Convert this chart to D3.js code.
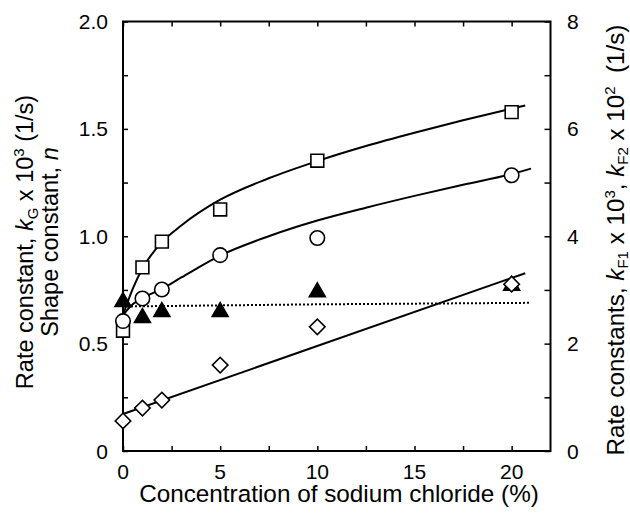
<!DOCTYPE html>
<html><head><meta charset="utf-8">
<script src="https://cdn.jsdelivr.net/npm/d3@7"></script>
<style>
body{margin:0;background:#fff;}
text{font-family:"Liberation Sans",Arial,sans-serif;fill:#000;}
</style></head>
<body><svg id="c" width="630" height="519"></svg>
<script>
// ---- data ----
const conc = [0, 1, 2, 5, 10, 20];
const squares   = [0.56, 0.855, 0.975, 1.125, 1.352, 1.578];
const circles   = [0.605, 0.71, 0.752, 0.912, 0.992, 1.284];
const triangles = [0.695, 0.62, 0.648, 0.648, 0.74, 0.77];
const diamonds  = [0.14, 0.20, 0.237, 0.40, 0.578, 0.777];
// fitted curves
const squareFitX = [0, 0.5, 1, 2, 3, 5, 7.5, 10, 12.5, 15, 17.5, 20, 20.7];
const squareFitY = [0.633, 0.755, 0.85, 0.972, 1.05, 1.17, 1.27, 1.35, 1.42, 1.482, 1.54, 1.594, 1.609];
const circleFitX = [0, 0.5, 1, 2, 3, 5, 7.5, 10, 12.5, 15, 17.5, 20, 21];
const circleFitY = [0.633, 0.683, 0.712, 0.755, 0.808, 0.91, 1.0, 1.073, 1.133, 1.188, 1.24, 1.29, 1.315];
const dottedFitX = [0, 10, 21];
const dottedFitY = [0.673, 0.683, 0.69];
const diamondFitX = [0, 20.7];
const diamondFitY = [0.172, 0.828];
const xTicks = [0, 5, 10, 15, 20];
const yLeftTicks = [0, 0.5, 1.0, 1.5, 2.0];
const yLeftTickLabels = ["0", "0.5", "1.0", "1.5", "2.0"];
const yRightTicks = [0, 2, 4, 6, 8];

// ---- layout ----
const svg = d3.select("#c");
const L = 123, R = 550.5, T = 21.5, B = 451;
const x = d3.scaleLinear().domain([0, 22]).range([L, R]);
const y = d3.scaleLinear().domain([0, 2]).range([B, T]);
const y2 = d3.scaleLinear().domain([0, 8]).range([B, T]);

// frame
svg.append("rect").attr("x", L).attr("y", T).attr("width", R - L).attr("height", B - T)
  .attr("fill", "none").attr("stroke", "#000").attr("stroke-width", 2);

const tickLen = 5;
const bx = svg.append("g").attr("transform", `translate(0,${B})`)
  .call(d3.axisBottom(x).tickValues(d3.range(0, 22.01, 2.5)).tickSizeInner(-tickLen).tickSizeOuter(0).tickFormat(""));
const tx = svg.append("g").attr("transform", `translate(0,${T})`)
  .call(d3.axisTop(x).tickValues(d3.range(0, 22.01, 2.5)).tickSizeInner(-tickLen).tickSizeOuter(0).tickFormat(""));
const lx = svg.append("g").attr("transform", `translate(${L},0)`)
  .call(d3.axisLeft(y).tickValues(d3.range(0, 2.01, 0.25)).tickSizeInner(-tickLen).tickSizeOuter(0).tickFormat(""));
const rx = svg.append("g").attr("transform", `translate(${R},0)`)
  .call(d3.axisRight(y2).tickValues(d3.range(0, 8.01, 1)).tickSizeInner(-tickLen - 1).tickSizeOuter(0).tickFormat(""));
[bx, tx, lx, rx].forEach(g => {
  g.select(".domain").remove();
  g.selectAll("line").attr("stroke", "#000").attr("stroke-width", 1.5);
});

// tick labels
svg.append("g").selectAll("text").data(xTicks).join("text")
  .attr("x", d => x(d)).attr("y", 479).attr("text-anchor", "middle")
  .attr("font-size", 21).text(d => d);
svg.append("g").selectAll("text").data(yLeftTicks).join("text")
  .attr("x", 108).attr("y", d => y(d)).attr("dy", "0.36em").attr("text-anchor", "end")
  .attr("font-size", 21).text((d, i) => yLeftTickLabels[i]);
svg.append("g").selectAll("text").data(yRightTicks).join("text")
  .attr("x", 567).attr("y", d => y2(d)).attr("dy", "0.36em").attr("text-anchor", "start")
  .attr("font-size", 21).text(d => d);

// axis titles
svg.append("text").attr("x", 339).attr("y", 502).attr("text-anchor", "middle")
  .attr("font-size", 24.3).text("Concentration of sodium chloride (%)");

function rotTitle(bx, cy, fs, build) {
  const t = svg.append("text").attr("transform", `translate(${bx},${cy}) rotate(-90)`)
    .attr("text-anchor", "middle").attr("font-size", fs);
  build(t);
  return t;
}
rotTitle(33, 242, 23.5, t => {
  t.append("tspan").text("Rate constant, ");
  t.append("tspan").attr("font-style", "italic").text("k");
  t.append("tspan").attr("font-size", 15).attr("dy", 5).text("G");
  t.append("tspan").attr("dy", -5).text(" x 10");
  t.append("tspan").attr("font-size", 15).attr("dy", -9).text("3");
  t.append("tspan").attr("dy", 9).text(" (1/s)");
});
rotTitle(57.5, 242, 23.5, t => {
  t.append("tspan").text("Shape constant, ");
  t.append("tspan").attr("font-style", "italic").text("n");
});
rotTitle(623.5, 240, 24.2, t => {
  t.append("tspan").text("Rate constants, ");
  t.append("tspan").attr("font-style", "italic").text("k");
  t.append("tspan").attr("font-size", 15).attr("dy", 4.5).text("F1");
  t.append("tspan").attr("dy", -4.5).text(" x 10");
  t.append("tspan").attr("font-size", 15).attr("dy", -9).text("3");
  t.append("tspan").attr("dy", 9).text(", ");
  t.append("tspan").attr("font-style", "italic").text("k");
  t.append("tspan").attr("font-size", 15).attr("dy", 4.5).text("F2");
  t.append("tspan").attr("dy", -4.5).text(" x 10");
  t.append("tspan").attr("font-size", 15).attr("dy", -9).text("2");
  t.append("tspan").attr("dy", 9).text("\u00a0 (1/s)");
});

// fitted lines
const line = d3.line().x(d => x(d[0])).y(d => y(d[1]));
const curve = d3.line().x(d => x(d[0])).y(d => y(d[1])).curve(d3.curveMonotoneX);
const zip = (a, b) => a.map((v, i) => [v, b[i]]);
svg.append("path").attr("d", line(zip(dottedFitX, dottedFitY)))
  .attr("fill", "none").attr("stroke", "#000").attr("stroke-width", 2).attr("stroke-dasharray", "2,2");
svg.append("path").attr("d", line(zip(diamondFitX, diamondFitY)))
  .attr("fill", "none").attr("stroke", "#000").attr("stroke-width", 2);
svg.append("path").attr("d", curve(zip(circleFitX, circleFitY)))
  .attr("fill", "none").attr("stroke", "#000").attr("stroke-width", 2);
svg.append("path").attr("d", curve(zip(squareFitX, squareFitY)))
  .attr("fill", "none").attr("stroke", "#000").attr("stroke-width", 2);

// markers
const mk = (type, size) => d3.symbol().type(type).size(size)();
function markers(vals, type, size, fill, rot) {
  svg.append("g").selectAll("path").data(vals).join("path")
    .attr("transform", (d, i) => `translate(${x(conc[i])},${y(d)})` + (rot ? ` rotate(${rot})` : ""))
    .attr("d", mk(type, size)).attr("fill", fill).attr("stroke", "#000").attr("stroke-width", 1.6);
}
markers(triangles, d3.symbolTriangle, 110, "#000");
markers(diamonds, d3.symbolSquare, 120, "#fff", 45);
markers(squares, d3.symbolSquare, 165, "#fff");
markers(circles, d3.symbolCircle, 165, "#fff");
</script></body></html>
